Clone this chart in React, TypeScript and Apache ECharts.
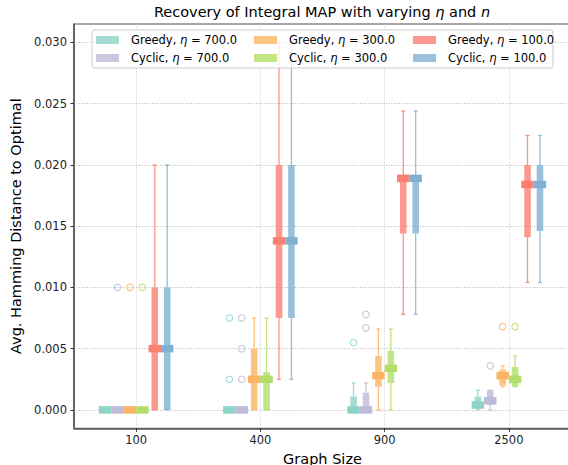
import React, { useEffect, useRef } from "react";
import * as echarts from "echarts";

const categories = ["100", "400", "900", "2500"];
const yTicks = [0, 0.005, 0.01, 0.015, 0.02, 0.025, 0.03];
const xTicks = [0, 1, 2, 3];

// [whiskerLow, Q1, median, Q3, whiskerHigh] for each graph size
const greedy700 = [[0, 0, 0, 0, 0], [0, 0, 0, 0, 0], [0, 0, 0, 0.0011, 0.0022], [0, 0.0001, 0.0004, 0.0011, 0.0016]];
const cyclic700 = [[0, 0, 0, 0, 0], [0, 0, 0, 0, 0], [0, 0, 0, 0.0014, 0.0022], [0, 0.0004, 0.00075, 0.0016, 0.0016]];
const greedy300 = [[0, 0, 0, 0, 0], [0, 0, 0.0025, 0.005, 0.0075], [0, 0.0019, 0.0028, 0.0044, 0.0066], [0.0019, 0.002, 0.0028, 0.0033, 0.0036]];
const cyclic300 = [[0, 0, 0, 0, 0], [0, 0, 0.0025, 0.0031, 0.0075], [0, 0.0022, 0.0034, 0.0048, 0.0066], [0.0019, 0.0019, 0.0025, 0.0035, 0.0044]];
const greedy100 = [[0, 0, 0.005, 0.01, 0.02], [0.0025, 0.0075, 0.0138, 0.02, 0.03], [0.0078, 0.0144, 0.0189, 0.019, 0.0244], [0.0104, 0.0141, 0.0184, 0.02, 0.0224]];
const cyclic100 = [[0, 0, 0.005, 0.01, 0.02], [0.0025, 0.0075, 0.0138, 0.02, 0.03], [0.0078, 0.0144, 0.0189, 0.019, 0.0244], [0.0104, 0.0146, 0.0184, 0.02, 0.0224]];

// outliers for each graph size
const greedy700Out = [[], [0.0075, 0.0025], [0.0055], []];
const cyclic700Out = [[0.01], [0.0075, 0.005, 0.0025], [0.0067, 0.0078], [0.0036]];
const greedy300Out = [[0.01], [], [], [0.0068]];
const cyclic300Out = [[0.01], [], [], [0.0068]];
const greedy100Out = [[], [], [], []];
const cyclic100Out = [[], [], [], []];

const seriesNames = [
  "Greedy, η = 700.0",
  "Cyclic, η = 700.0",
  "Greedy, η = 300.0",
  "Cyclic, η = 300.0",
  "Greedy, η = 100.0",
  "Cyclic, η = 100.0",
];
const seriesStats = [greedy700, cyclic700, greedy300, cyclic300, greedy100, cyclic100];
const seriesOutliers = [greedy700Out, cyclic700Out, greedy300Out, cyclic300Out, greedy100Out, cyclic100Out];
const colors = ["#8dd3c7", "#bebada", "#fdb462", "#b3de69", "#fb8072", "#80b1d3"];
const offsets = [-0.25, -0.15, -0.05, 0.05, 0.15, 0.25];

const FONT = "DejaVu Sans";

function rgba(hex: string, a: number) {
  const r = parseInt(hex.slice(1, 3), 16);
  const g = parseInt(hex.slice(3, 5), 16);
  const b = parseInt(hex.slice(5, 7), 16);
  return `rgba(${r},${g},${b},${a})`;
}

const makeRender = (color: string) => (params: any, api: any) => {
  const x = api.value(0);
  const vals = [1, 2, 3, 4, 5].map((i) => api.value(i));
  const pts = vals.map((v) => api.coord([x, v]));
  const cx = pts[0][0];
  const unit = api.size([1, 0])[0];
  const bw = unit * 0.053;
  const mw = unit * 0.1;
  const cw = bw * 0.6;
  const [yLo, yQ1, yMed, yQ3, yHi] = pts.map((p: number[]) => p[1]);
  const wStyle = { stroke: rgba(color, 0.85), lineWidth: 1.3, fill: null };
  return {
    type: "group",
    children: [
      { type: "line", shape: { x1: cx, y1: yLo, x2: cx, y2: yQ1 }, style: wStyle },
      { type: "line", shape: { x1: cx, y1: yQ3, x2: cx, y2: yHi }, style: wStyle },
      { type: "line", shape: { x1: cx - cw / 2, y1: yLo, x2: cx + cw / 2, y2: yLo }, style: wStyle },
      { type: "line", shape: { x1: cx - cw / 2, y1: yHi, x2: cx + cw / 2, y2: yHi }, style: wStyle },
      {
        type: "rect",
        shape: { x: cx - bw / 2, y: yQ3, width: bw, height: Math.max(yQ1 - yQ3, 0) },
        style: { fill: rgba(color, 0.8) },
      },
      {
        type: "rect",
        shape: { x: cx - mw / 2, y: yMed - 3.75, width: mw, height: 7.5 },
        style: { fill: color },
      },
    ],
  };
};

const legendFormatter = (name: string) => {
  const parts = name.split("η");
  return `{g| }{n|${parts[0]}}{i|η}{n|${parts[1]}}`;
};

const legendRich = {
  g: { width: 7, fontSize: 11.5, fontFamily: FONT },
  n: { fontSize: 11.5, fontFamily: FONT, color: "#000" },
  i: { fontSize: 11.5, fontFamily: FONT, fontStyle: "italic", color: "#000" },
};

export default function App() {
  const ref = useRef<HTMLDivElement>(null);
  useEffect(() => {
    if (!ref.current) return;
    document.body.style.margin = "0";
    const chart = echarts.init(ref.current, null, { renderer: "svg" });

    const boxSeries = seriesNames.map((name, s) => ({
      name,
      type: "custom",
      renderItem: makeRender(colors[s]),
      itemStyle: { color: rgba(colors[s], 0.8) },
      encode: { x: 0, y: [1, 2, 3, 4, 5] },
      data: seriesStats[s].map((st, i) => [i + offsets[s], ...st]),
      z: 3,
    }));

    const outlierSeries = seriesNames.map((name, s) => ({
      name: name + " outliers",
      type: "scatter",
      symbol: "circle",
      symbolSize: 6.5,
      itemStyle: { color: "rgba(0,0,0,0)", borderColor: colors[s], borderWidth: 1.1 },
      data: seriesOutliers[s].flatMap((list, i) => list.map((v) => [i + offsets[s], v])),
      z: 3,
    }));

    const legendLefts = [96, 254, 413];

    chart.setOption({
      animation: false,
      grid: {
        left: 74,
        right: -3,
        top: 24,
        bottom: 36.7,
        outerBoundsMode: "none",
        containLabel: false,
        show: true,
        borderColor: "#222",
        borderWidth: 0.8,
        backgroundColor: "transparent",
      },
      xAxis: {
        type: "value",
        min: -0.5,
        max: 3.5,
        name: "Graph Size",
        nameLocation: "middle",
        nameGap: 21,
        nameTextStyle: { fontFamily: FONT, fontSize: 14.5, color: "#000" },
        axisLine: { show: true, onZero: false, lineStyle: { color: "#555", width: 1.6 } },
        axisTick: { show: true, customValues: xTicks, length: 3.5, lineStyle: { color: "#333" } },
        axisLabel: {
          customValues: xTicks,
          margin: 6,
          fontFamily: FONT,
          fontSize: 11.5,
          color: "#222",
          formatter: (v: number) => categories[Math.round(v)] ?? "",
        },
        splitLine: { show: true, lineStyle: { color: "#c8c8c8", width: 0.9, type: [1, 1.6] } },
      },
      yAxis: {
        type: "value",
        min: -0.0015,
        max: 0.0315,
        name: "Avg. Hamming Distance to Optimal",
        nameLocation: "middle",
        nameGap: 48,
        nameTextStyle: { fontFamily: FONT, fontSize: 14.5, color: "#000" },
        axisLine: { show: true, onZero: false, lineStyle: { color: "#555", width: 1.6 } },
        axisTick: { show: true, customValues: yTicks, length: 3.5, lineStyle: { color: "#333" } },
        axisLabel: {
          customValues: yTicks,
          margin: 7,
          fontFamily: FONT,
          fontSize: 11.5,
          color: "#222",
          formatter: (v: number) => v.toFixed(3),
        },
        splitLine: { show: true, lineStyle: { color: "#b0b0b0", width: 0.9, type: [1, 1.6] } },
      },
      legend: [0, 1, 2].map((c) => ({
        data: [seriesNames[2 * c], seriesNames[2 * c + 1]],
        orient: "vertical",
        left: legendLefts[c],
        top: 33,
        itemWidth: 23,
        itemHeight: 8,
        itemGap: 4,
        icon: "rect",
        padding: 0,
        z: 10,
        selectedMode: false,
        formatter: legendFormatter,
        textStyle: { fontFamily: FONT, fontSize: 11.5, color: "#000", lineHeight: 14, rich: legendRich },
      })),
      graphic: [
        {
          type: "rect",
          z: 8,
          shape: { x: 92, y: 30, width: 461, height: 38, r: 3 },
          style: { fill: "rgba(255,255,255,0.8)", stroke: "#cccccc", lineWidth: 1 },
        },
        {
          type: "text",
          z: 8,
          x: 322,
          y: 12,
          style: {
            text: "{n|Recovery of Integral MAP with varying }{i|η}{n| and }{i|n}",
            align: "center",
            verticalAlign: "middle",
            rich: {
              n: { fontFamily: FONT, fontSize: 14.5, fill: "#000", color: "#000" },
              i: { fontFamily: FONT, fontSize: 14.5, fontStyle: "italic", fill: "#000", color: "#000" },
            },
          },
        },
      ],
      series: [...boxSeries, ...outlierSeries],
    });

    return () => chart.dispose();
  }, []);

  return <div ref={ref} style={{ width: 568, height: 465 }} />;
}
